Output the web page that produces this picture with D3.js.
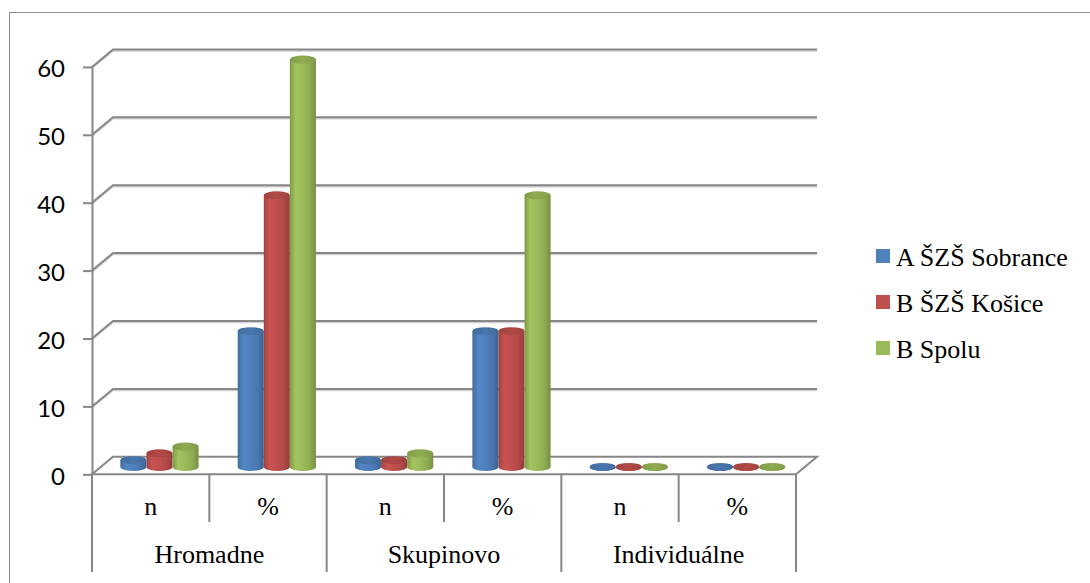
<!DOCTYPE html>
<html>
<head>
<meta charset="utf-8">
<script src="https://cdn.jsdelivr.net/npm/d3@7"></script>
<style>
  body { margin: 0; background: #fff; }
  svg { display: block; }
  .serif { font-family: "Liberation Serif", "Times New Roman", "DejaVu Serif", serif; }
  .sans { font-family: Lato, "Open Sans", sans-serif; }
</style>
</head>
<body>
<svg id="chart" width="1090" height="583"></svg>
<script>
// Categories: each group splits into a count (n) and a share (%)
const groups = ["Hromadne", "Skupinovo", "Individuálne"];
const subcats = ["n", "%"];
const seriesNames = ["A ŠZŠ Sobrance", "B ŠZŠ Košice", "B Spolu"];
// Values in order Hromadne n, Hromadne %, Skupinovo n, Skupinovo %, Individuálne n, Individuálne %
const sobrance = [1, 20, 1, 20, 0, 0];
const kosice   = [2, 40, 1, 20, 0, 0];
const spolu    = [3, 60, 2, 40, 0, 0];
const yTicks = [0, 10, 20, 30, 40, 50, 60];
const seriesColors = ["#4F81BD", "#C0504D", "#9BBB59"];

const seriesValues = [sobrance, kosice, spolu];
const cats = [];
groups.forEach(g => subcats.forEach(s => cats.push({ group: g, sub: s, key: g + "|" + s })));

const svg = d3.select("#chart");

// Outer chart frame
svg.append("rect")
  .attr("x", 9.5).attr("y", 12.5)
  .attr("width", 1100).attr("height", 600)
  .attr("fill", "none").attr("stroke", "#8c8c8c").attr("stroke-width", 1);

// Plot geometry (front plane plus a receding depth offset)
const left = 92, right = 796;
const depth = { dx: 21, dy: -17.5 };
const barDepth = 0.42;

const x = d3.scaleBand().domain(cats.map(c => c.key)).range([left, right]).padding(0);
const y = d3.scaleLinear().domain([0, 60]).range([474.3, 66.9]);
const inner = d3.scaleBand().domain(seriesNames).range([0, x.bandwidth() * 2 / 3]).padding(0);

const gridColor = "#878787";
const grid = svg.append("g");

// Floor parallelogram
const y0 = y(0);
grid.append("path")
  .attr("d", `M${left},${y0} L${left + depth.dx},${y0 + depth.dy} L${right + depth.dx},${y0 + depth.dy} L${right},${y0} Z`)
  .attr("fill", "#fff").attr("stroke", gridColor).attr("stroke-width", 2);

// Back-wall gridlines with their side-wall diagonals
yTicks.filter(t => t > 0).forEach(t => {
  const yf = y(t), yb = y(t) + depth.dy;
  grid.append("path")
    .attr("d", `M${left},${yf + 1.5} L${left + depth.dx},${yb + 1.5} L${right + depth.dx},${yb + 1.5}`)
    .attr("fill", "none").attr("stroke", "#d0d0d0").attr("stroke-width", 1.5);
  grid.append("path")
    .attr("d", `M${left},${yf} L${left + depth.dx},${yb} L${right + depth.dx},${yb}`)
    .attr("fill", "none").attr("stroke", gridColor).attr("stroke-width", 2);
});

// Value axis
const yAxis = svg.append("g")
  .attr("transform", `translate(${left},0)`)
  .call(d3.axisLeft(y).tickValues(yTicks).tickSize(9).tickSizeOuter(0).tickPadding(18));
yAxis.attr("font-family", null).attr("font-size", null);
yAxis.select(".domain").attr("stroke", gridColor).attr("stroke-width", 2);
yAxis.selectAll(".tick line").attr("stroke", gridColor).attr("stroke-width", 2);
yAxis.selectAll(".tick text")
  .attr("class", "sans")
  .style("font-size", "24px")
  .attr("fill", "#000")
  .attr("dy", "0.42em");

// Category dividers below the floor
cats.forEach((c, i) => {
  const xe = x(c.key);
  const long = i % 2 === 0;
  svg.append("line")
    .attr("x1", xe).attr("x2", xe)
    .attr("y1", y0).attr("y2", long ? 572 : 522)
    .attr("stroke", gridColor).attr("stroke-width", 2);
});
svg.append("line")
  .attr("x1", right).attr("x2", right)
  .attr("y1", y0).attr("y2", 572)
  .attr("stroke", gridColor).attr("stroke-width", 2);

// Sub-category labels (n / %)
const xAxis = svg.append("g")
  .attr("transform", `translate(0,${y0})`)
  .call(d3.axisBottom(x).tickSize(0).tickPadding(0).tickFormat(k => k.split("|")[1]));
xAxis.attr("font-family", null).attr("font-size", null);
xAxis.select(".domain").remove();
xAxis.selectAll(".tick text")
  .attr("class", "serif")
  .style("font-size", "26px")
  .attr("fill", "#000")
  .attr("dy", null)
  .attr("y", 41);

// Group labels
const gx = d3.scaleBand().domain(groups).range([left, right]);
svg.append("g").selectAll("text").data(groups).join("text")
  .attr("class", "serif")
  .attr("x", d => gx(d) + gx.bandwidth() / 2)
  .attr("y", 563)
  .attr("text-anchor", "middle")
  .style("font-size", "26px")
  .attr("fill", "#000")
  .text(d => d);

// Cylinder shading gradients
const defs = svg.append("defs");
seriesColors.forEach((c, i) => {
  const base = d3.color(c);
  const g = defs.append("linearGradient").attr("id", "body" + i)
    .attr("x1", "0%").attr("x2", "100%").attr("y1", "0%").attr("y2", "0%");
  [[0, base.darker(0.55)], [0.22, base.brighter(0.12)], [0.4, base.brighter(0.05)],
   [0.75, base.darker(0.2)], [1, base.darker(0.75)]].forEach(([o, col]) =>
    g.append("stop").attr("offset", o).attr("stop-color", col.formatHex()));
  const t = defs.append("linearGradient").attr("id", "top" + i)
    .attr("x1", "0%").attr("x2", "100%").attr("y1", "0%").attr("y2", "0%");
  [[0, base.darker(0.5)], [0.5, base.darker(0.25)], [1, base.darker(0.5)]].forEach(([o, col]) =>
    t.append("stop").attr("offset", o).attr("stop-color", col.formatHex()));
});

// Cylinders
const bars = svg.append("g");
const rx = inner.bandwidth() / 2, ry = 4;
cats.forEach((c, ci) => {
  seriesNames.forEach((s, si) => {
    const v = seriesValues[si][ci];
    const cx = x(c.key) + (x.bandwidth() - inner.range()[1]) / 2 + inner(s) + rx + depth.dx * barDepth;
    const yb = y(0) + depth.dy * barDepth;
    const yt = y(v) + depth.dy * barDepth;
    bars.append("path")
      .attr("d", `M${cx - rx},${yt} L${cx - rx},${yb} A${rx},${ry} 0 0 0 ${cx + rx},${yb} L${cx + rx},${yt} Z`)
      .attr("fill", `url(#body${si})`);
    bars.append("ellipse")
      .attr("cx", cx).attr("cy", yt).attr("rx", rx).attr("ry", ry)
      .attr("fill", `url(#top${si})`);
  });
});

// Legend
const legend = svg.append("g");
seriesNames.forEach((s, i) => {
  const ly = 266 + i * 46;
  legend.append("rect")
    .attr("x", 876).attr("y", ly - 17).attr("width", 14).attr("height", 14)
    .attr("fill", seriesColors[i]);
  legend.append("text")
    .attr("class", "serif")
    .attr("x", 896).attr("y", ly)
    .style("font-size", "26px")
    .attr("fill", "#000")
    .text(s);
});
</script>
</body>
</html>
